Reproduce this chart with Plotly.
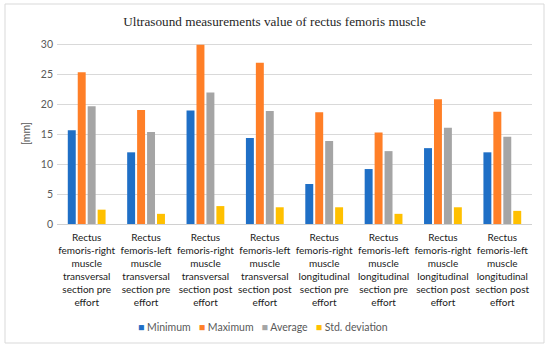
import plotly.graph_objects as go

categories = [
    "Rectus<br>femoris-right<br>muscle<br>transversal<br>section pre<br>effort",
    "Rectus<br>femoris-left<br>muscle<br>transversal<br>section pre<br>effort",
    "Rectus<br>femoris-right<br>muscle<br>transversal<br>section post<br>effort",
    "Rectus<br>femoris-left<br>muscle<br>transversal<br>section post<br>effort",
    "Rectus<br>femoris-right<br>muscle<br>longitudinal<br>section pre<br>effort",
    "Rectus<br>femoris-left<br>muscle<br>longitudinal<br>section pre<br>effort",
    "Rectus<br>femoris-right<br>muscle<br>longitudinal<br>section post<br>effort",
    "Rectus<br>femoris-left<br>muscle<br>longitudinal<br>section post<br>effort",
]
minimum = [15.7, 12.0, 19.0, 14.4, 6.7, 9.2, 12.7, 12.0]
maximum = [25.4, 19.1, 30.0, 27.0, 18.7, 15.3, 20.9, 18.8]
average = [19.7, 15.4, 22.0, 18.9, 13.9, 12.2, 16.1, 14.6]
std_dev = [2.4, 1.7, 3.0, 2.8, 2.8, 1.7, 2.8, 2.2]
series_names = ["Minimum", "Maximum", "Average", "Std. deviation"]
series_colors = ["#1F6FC6", "#FF7F27", "#A5A5A5", "#FFC000"]
series_values = [minimum, maximum, average, std_dev]

fig = go.Figure()
for name, vals, col in zip(series_names, series_values, series_colors):
    fig.add_trace(go.Bar(x=categories, y=vals, name=name, showlegend=False,
                         marker=dict(color=col, line=dict(width=0))))

W, H = 550, 349
l, r, t, b = 57, 18, 43, 125
pw, ph = W - l - r, H - t - b

def px(x):
    return (x - l) / pw

def py(y):
    return (H - b - y) / ph

legend_text = "&nbsp;&nbsp;&nbsp;".join(
    f'<span style="color:{c}">■</span>&nbsp;{n}' for n, c in zip(series_names, series_colors)
)

fig.update_layout(
    width=W, height=H,
    margin=dict(l=l, r=r, t=t, b=b, autoexpand=False),
    paper_bgcolor="white", plot_bgcolor="white",
    barmode="group", bargap=0.33, bargroupgap=0.2,
    font=dict(family="Lato, Liberation Sans, sans-serif", size=10, color="#404040"),
    title=dict(text="Ultrasound measurements value of rectus femoris muscle",
               font=dict(family="Liberation Serif, serif", size=13.2, color="#262626"),
               xref="container", yref="container",
               x=274.5 / W, xanchor="center", y=1 - 21 / H, yanchor="middle"),
    showlegend=False,
    xaxis=dict(showgrid=False, showline=False, ticks="", tickangle=0, automargin=False,
               ticklabelstandoff=6,
               tickfont=dict(size=10, color="#1a1a1a")),
    yaxis=dict(range=[0, 30.3], dtick=5, showgrid=True, gridcolor="#D9D9D9", gridwidth=1,
               zeroline=True, zerolinecolor="#D0D0D0", zerolinewidth=1, showline=False,
               automargin=False, ticklabelstandoff=3,
               tickfont=dict(size=10.5, color="#595959"), ticks="",
               title=dict(text="[mm]", font=dict(size=10.5, color="#595959"), standoff=8)),
    annotations=[dict(text=legend_text, xref="paper", yref="paper", x=px(263), y=py(327),
                      xanchor="center", yanchor="middle", showarrow=False,
                      font=dict(size=10.5, color="#595959"))],
    shapes=[dict(type="rect", xref="paper", yref="paper",
                 x0=px(5), x1=px(544), y0=py(4), y1=py(343),
                 line=dict(color="#D9D9D9", width=1), fillcolor="rgba(0,0,0,0)", layer="below")],
)

fig.write_html("out.html", config={"displayModeBar": False},
               post_script="document.body.style.margin='0';document.body.style.overflow='hidden';")
